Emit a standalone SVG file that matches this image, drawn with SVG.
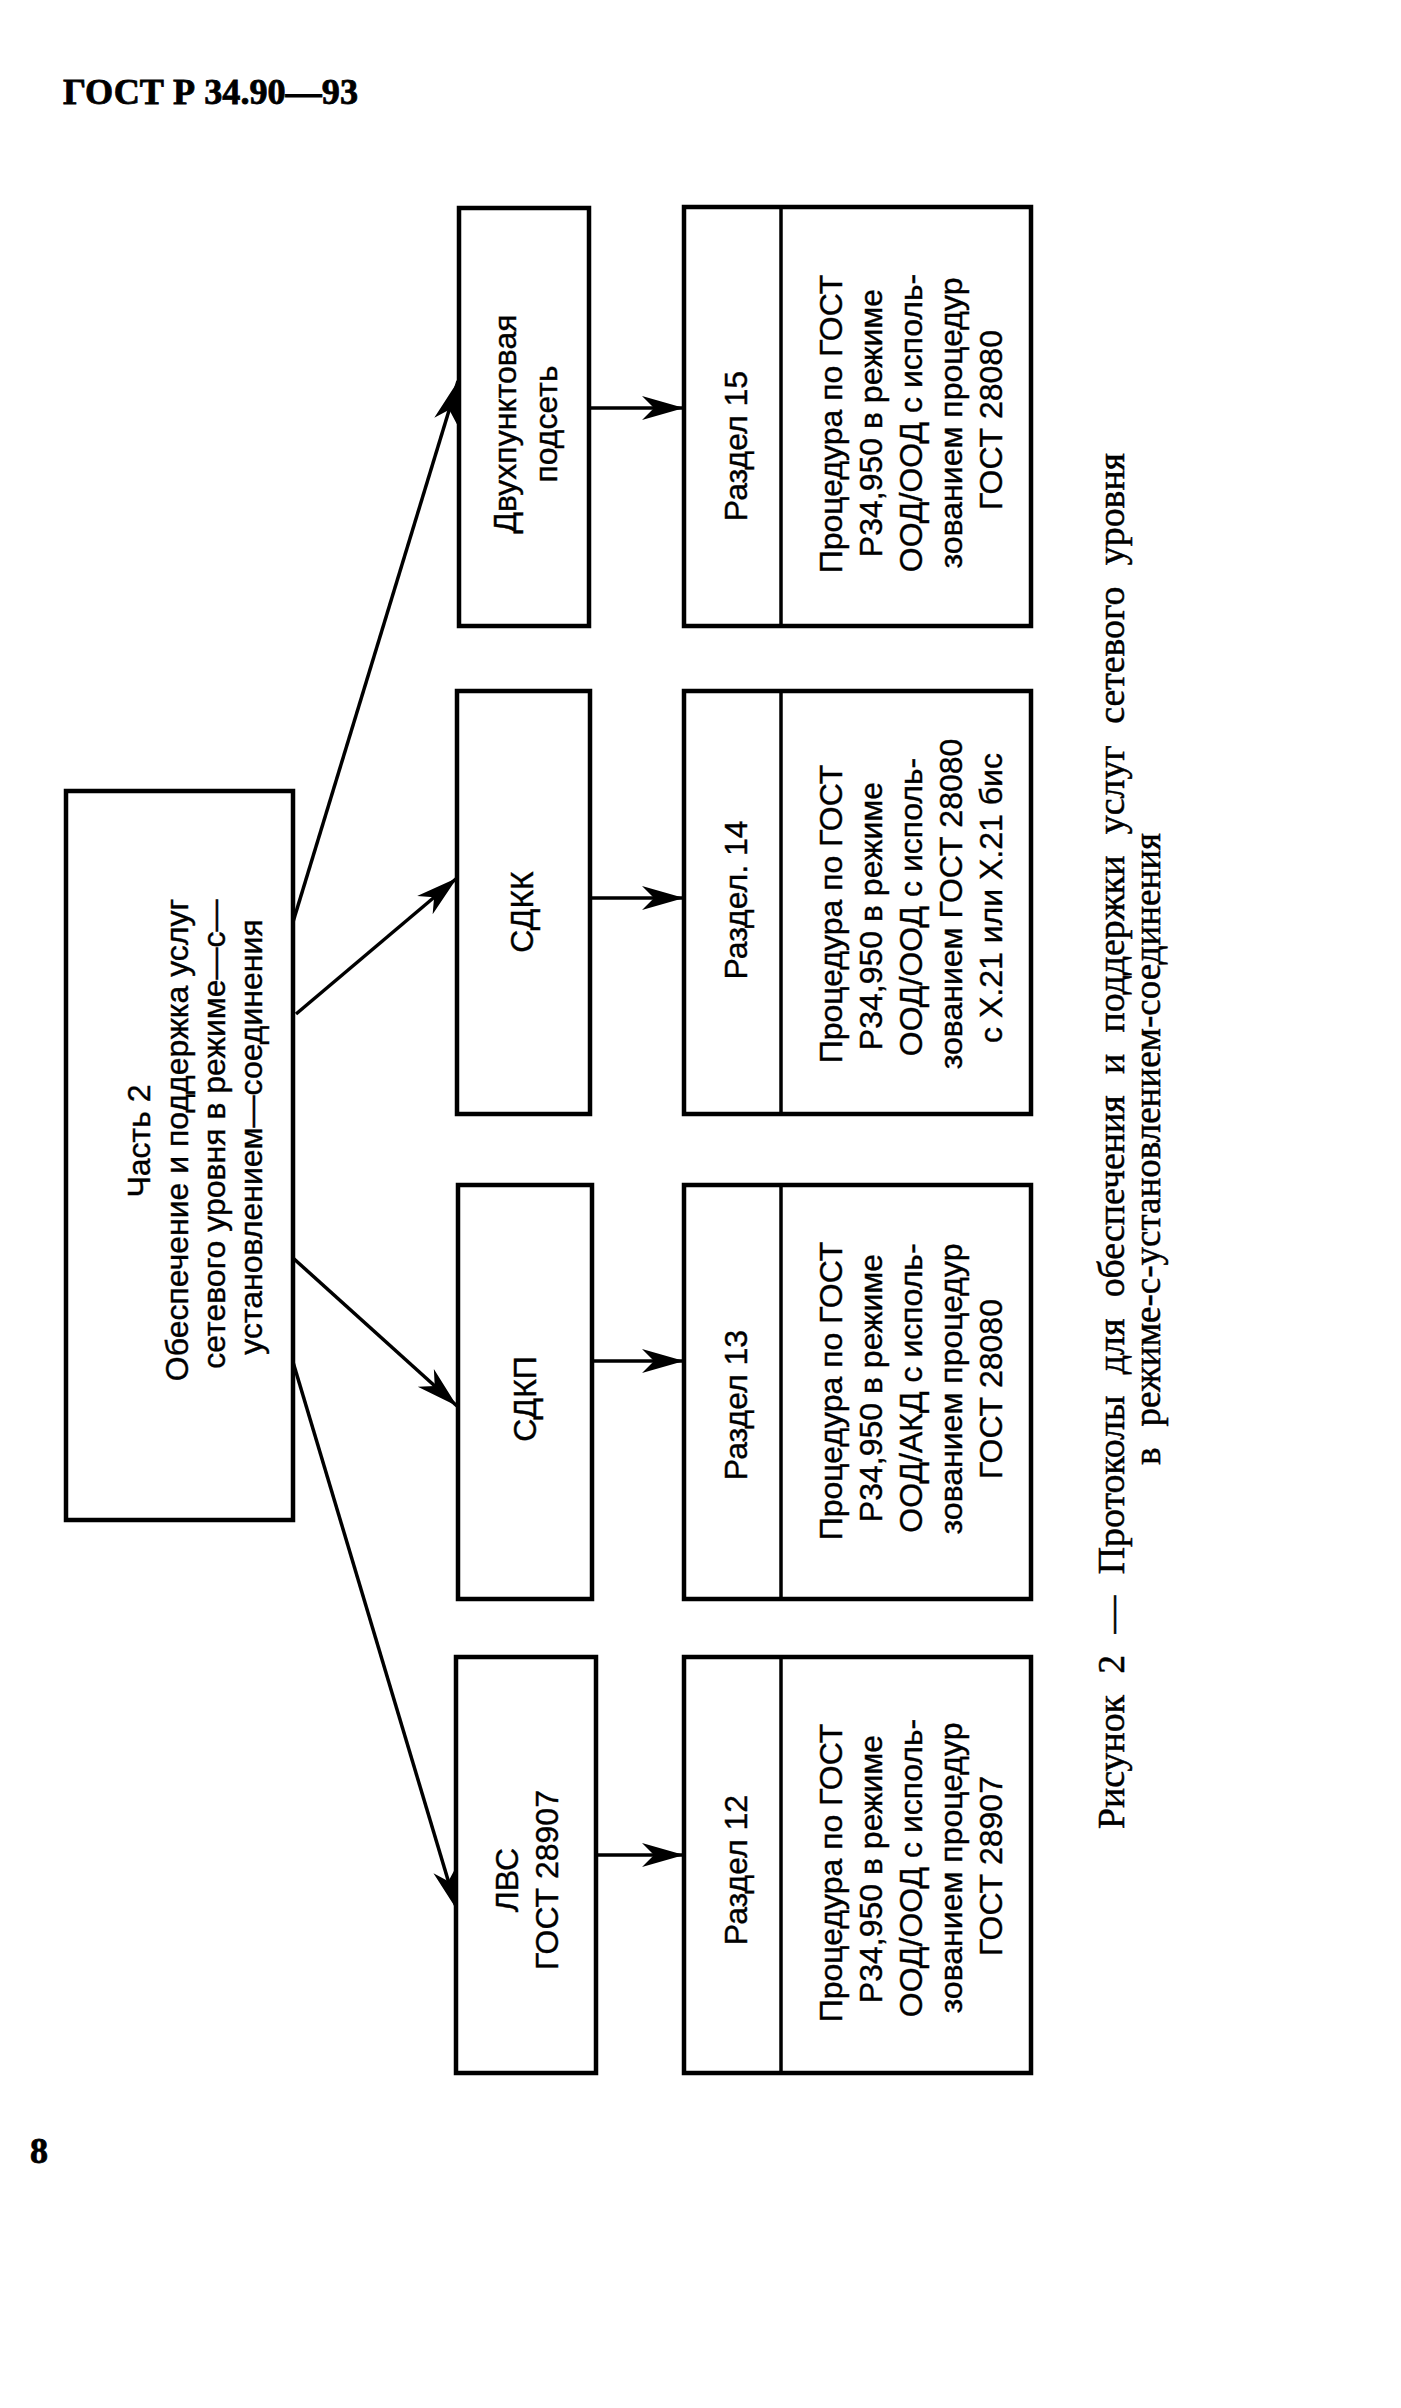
<svg xmlns="http://www.w3.org/2000/svg" width="1401" height="2408" viewBox="0 0 1401 2408">
<style>
.bg{fill:#ffffff}
.box{fill:#ffffff;stroke:#000;stroke-width:4.5}
.div{stroke:#000;stroke-width:3.5}
.t{font-family:"Liberation Sans",Arial,sans-serif;font-size:32px;fill:#000;stroke:#000;stroke-width:0.4;text-anchor:middle}
.cap{font-family:"Liberation Serif","Times New Roman",serif;font-size:38px;fill:#000;stroke:#000;stroke-width:0.5;text-anchor:middle;word-spacing:12px}
.hdr{font-family:"Liberation Serif","Times New Roman",serif;font-weight:bold;fill:#000;stroke:#000;stroke-width:0.8}
.con{stroke:#000;stroke-width:3.5;fill:none;marker-end:url(#arr)}
</style>
<defs>
<marker id="arr" markerUnits="userSpaceOnUse" viewBox="-44 -14 46 28" refX="0" refY="0" markerWidth="46" markerHeight="28" orient="auto">
<path d="M0,0 L-42,-12 L-30,0 L-42,12 Z" fill="#000"/>
</marker>
</defs>
<rect class="bg" x="0" y="0" width="1401" height="2408"/>
<text class="hdr" x="63" y="104" font-size="36" textLength="295" lengthAdjust="spacingAndGlyphs">ГОСТ Р 34.90—93</text>
<text class="hdr" x="30" y="2163" font-size="36">8</text>

<g id="connectors">
<line class="con" x1="293" y1="922" x2="458" y2="381"/>
<line class="con" x1="296" y1="1014" x2="457" y2="878"/>
<line class="con" x1="293" y1="1258" x2="457" y2="1406"/>
<line class="con" x1="293" y1="1362" x2="457" y2="1910"/>
<line class="con" x1="590" y1="408" x2="684" y2="408"/>
<line class="con" x1="590" y1="898" x2="684" y2="898"/>
<line class="con" x1="592" y1="1361" x2="684" y2="1361"/>
<line class="con" x1="596" y1="1855" x2="684" y2="1855"/>
</g>

<g id="part2">
<rect class="box" x="66" y="791" width="227" height="729"/>
<text class="t" transform="translate(150,1141) rotate(-90)">Часть 2</text>
<text class="t" transform="translate(188,1140) rotate(-90)">Обеспечение и поддержка услуг</text>
<text class="t" transform="translate(225,1134) rotate(-90)">сетевого уровня в режиме—с—</text>
<text class="t" transform="translate(262,1137) rotate(-90)">установлением—соединения</text>
</g>

<g id="dvuhpunktovaya">
<rect class="box" x="459" y="208" width="130" height="418"/>
<text class="t" transform="translate(516,424) rotate(-90)">Двухпунктовая</text>
<text class="t" transform="translate(557,424) rotate(-90)">подсеть</text>
</g>
<g id="sdkk">
<rect class="box" x="457" y="691" width="133" height="423"/>
<text class="t" transform="translate(533,912) rotate(-90)">СДКК</text>
</g>
<g id="sdkp">
<rect class="box" x="458" y="1185" width="134" height="414"/>
<text class="t" transform="translate(536,1399) rotate(-90)">СДКП</text>
</g>
<g id="lvs">
<rect class="box" x="456" y="1657" width="140" height="416"/>
<text class="t" transform="translate(518,1880) rotate(-90)">ЛВС</text>
<text class="t" transform="translate(558,1880) rotate(-90)">ГОСТ 28907</text>
</g>

<g id="razdel15">
<rect class="box" x="684" y="207" width="347" height="419"/>
<line class="div" x1="781" y1="207" x2="781" y2="626"/>
<text class="t" transform="translate(747,446) rotate(-90)">Раздел 15</text>
<text class="t" transform="translate(842,424) rotate(-90)">Процедура по ГОСТ</text>
<text class="t" transform="translate(882,423) rotate(-90)">Р34,950 в режиме</text>
<text class="t" transform="translate(922,423) rotate(-90)">ООД/ООД с исполь-</text>
<text class="t" transform="translate(962,423) rotate(-90)">зованием процедур</text>
<text class="t" transform="translate(1002,420) rotate(-90)">ГОСТ 28080</text>
</g>
<g id="razdel14">
<rect class="box" x="684" y="691" width="347" height="423"/>
<line class="div" x1="781" y1="691" x2="781" y2="1114"/>
<text class="t" transform="translate(747,900) rotate(-90)">Раздел. 14</text>
<text class="t" transform="translate(842,914) rotate(-90)">Процедура по ГОСТ</text>
<text class="t" transform="translate(882,916) rotate(-90)">Р34,950 в режиме</text>
<text class="t" transform="translate(922,907) rotate(-90)">ООД/ООД с исполь-</text>
<text class="t" transform="translate(962,904) rotate(-90)">зованием ГОСТ 28080</text>
<text class="t" transform="translate(1002,898) rotate(-90)">с Х.21 или Х.21 бис</text>
</g>
<g id="razdel13">
<rect class="box" x="684" y="1185" width="347" height="414"/>
<line class="div" x1="781" y1="1185" x2="781" y2="1599"/>
<text class="t" transform="translate(747,1405) rotate(-90)">Раздел 13</text>
<text class="t" transform="translate(842,1391) rotate(-90)">Процедура по ГОСТ</text>
<text class="t" transform="translate(882,1388) rotate(-90)">Р34,950 в режиме</text>
<text class="t" transform="translate(922,1388) rotate(-90)">ООД/АКД с исполь-</text>
<text class="t" transform="translate(962,1389) rotate(-90)">зованием процедур</text>
<text class="t" transform="translate(1002,1389) rotate(-90)">ГОСТ 28080</text>
</g>
<g id="razdel12">
<rect class="box" x="684" y="1657" width="347" height="416"/>
<line class="div" x1="781" y1="1657" x2="781" y2="2073"/>
<text class="t" transform="translate(747,1870) rotate(-90)">Раздел 12</text>
<text class="t" transform="translate(842,1873) rotate(-90)">Процедура по ГОСТ</text>
<text class="t" transform="translate(882,1869) rotate(-90)">Р34,950 в режиме</text>
<text class="t" transform="translate(922,1868) rotate(-90)">ООД/ООД с исполь-</text>
<text class="t" transform="translate(962,1868) rotate(-90)">зованием процедур</text>
<text class="t" transform="translate(1002,1866) rotate(-90)">ГОСТ 28907</text>
</g>

<g id="caption">
<text class="cap" transform="translate(1124,1141) rotate(-90)" textLength="1376" lengthAdjust="spacingAndGlyphs">Рисунок 2 — Протоколы для обеспечения и поддержки услуг сетевого уровня</text>
<text class="cap" transform="translate(1160,1149) rotate(-90)" textLength="632" lengthAdjust="spacingAndGlyphs">в режиме-с-установлением-соединения</text>
</g>
</svg>
